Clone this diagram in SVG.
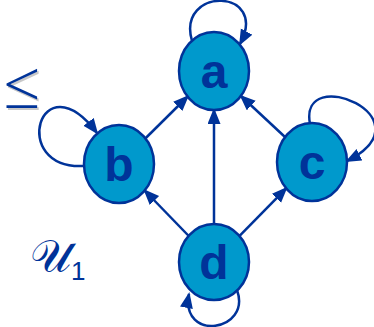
<svg xmlns="http://www.w3.org/2000/svg" width="374" height="327" viewBox="0 0 374 327">
<style>
.node{fill:#0099CC;stroke:#003399;stroke-width:2.5}
.lbl{font-family:"Liberation Sans",Arial,sans-serif;font-weight:bold;font-size:48px;fill:#003399;text-anchor:middle}
.edge{fill:none;stroke:#003399;stroke-width:2.5}
.le{font-family:"Open Sans","DejaVu Sans",sans-serif;font-weight:300;font-size:66px}
</style>
<defs>
<marker id="ah" markerUnits="userSpaceOnUse" markerWidth="16" markerHeight="14" refX="14" refY="6.5" orient="auto">
<path d="M0,0 L16,6.5 L0,13 z" fill="#003399"/>
</marker>
</defs>
<g id="connectors">
<path class="edge" d="M145.3,138.5 L187.7,96.5" marker-end="url(#ah)"/>
<path class="edge" d="M285,137 L241,96" marker-end="url(#ah)"/>
<path class="edge" d="M214,223 L214,110" marker-end="url(#ah)"/>
<path class="edge" d="M188.3,235.5 L144.7,190.5" marker-end="url(#ah)"/>
<path class="edge" d="M239.8,235.7 L286.2,188.3" marker-end="url(#ah)"/>
<path class="edge" d="M192,41 C176,-14 270,-12 240,44" marker-end="url(#ah)"/>
<path class="edge" d="M84,166 C8,170 40,58 97,133" marker-end="url(#ah)"/>
<path class="edge" d="M310,124 C298,62 432,118 347,161" marker-end="url(#ah)"/>
<path class="edge" d="M237,290 C252,332 180,342 189,294" marker-end="url(#ah)"/>
</g>
<g id="node-a"><ellipse class="node" cx="214" cy="71" rx="35" ry="39"/><text class="lbl" x="214" y="88">a</text></g>
<g id="node-b"><ellipse class="node" cx="119" cy="164" rx="35" ry="39"/><text class="lbl" x="119" y="181">b</text></g>
<g id="node-c"><ellipse class="node" cx="312" cy="162" rx="35" ry="39"/><text class="lbl" x="312" y="179">c</text></g>
<g id="node-d"><ellipse class="node" cx="214" cy="262" rx="35" ry="38"/><text class="lbl" x="214" y="279">d</text></g>
<g id="labels">
<text class="le" x="0" y="0" fill="#c8c8c8" transform="translate(4.5,109.5)">≤</text>
<text class="le" x="0" y="0" fill="#003399" transform="translate(3,108)">≤</text>
<text x="30" y="272" font-family="DejaVu Sans,DejaVu Serif,serif" font-size="46" fill="#003399">𝒰<tspan font-family="Liberation Sans,Arial,sans-serif" font-size="26" dy="8">1</tspan></text>
</g>
</svg>
